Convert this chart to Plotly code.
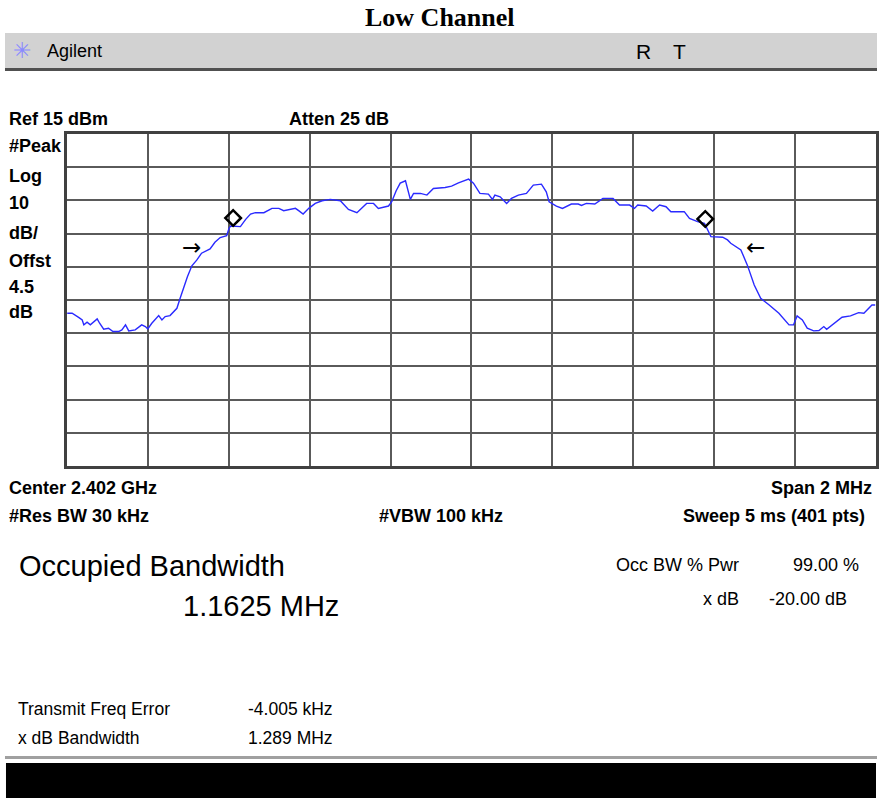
import plotly.graph_objects as go

# ---------------- data ----------------
freq_mhz = [2401.001, 2401.013, 2401.030, 2401.038, 2401.042, 2401.050, 2401.058, 2401.065, 2401.075, 2401.081,
            2401.091, 2401.103, 2401.114, 2401.128, 2401.136, 2401.145, 2401.153, 2401.169, 2401.185, 2401.194,
            2401.200, 2401.210, 2401.227, 2401.235, 2401.243, 2401.255, 2401.265, 2401.272, 2401.280, 2401.288,
            2401.298, 2401.309, 2401.321, 2401.333, 2401.346, 2401.354, 2401.366, 2401.379, 2401.395, 2401.401,
            2401.405, 2401.429, 2401.442, 2401.454, 2401.466, 2401.487, 2401.507, 2401.524, 2401.536, 2401.552,
            2401.565, 2401.573, 2401.584, 2401.598, 2401.614, 2401.631, 2401.651, 2401.676, 2401.696, 2401.717,
            2401.741, 2401.758, 2401.770, 2401.795, 2401.803, 2401.814, 2401.824, 2401.837, 2401.849, 2401.857,
            2401.874, 2401.890, 2401.906, 2401.935, 2401.951, 2401.968, 2401.993, 2402.005, 2402.021, 2402.042,
            2402.052, 2402.058, 2402.071, 2402.087, 2402.099, 2402.116, 2402.136, 2402.153, 2402.173, 2402.185,
            2402.192, 2402.210, 2402.225,
            2402.247, 2402.264, 2402.272, 2402.284, 2402.305, 2402.325, 2402.350, 2402.366, 2402.391, 2402.403,
            2402.411, 2402.432, 2402.448, 2402.465, 2402.481, 2402.493, 2402.526, 2402.539, 2402.559, 2402.576,
            2402.592, 2402.621, 2402.633, 2402.641, 2402.666, 2402.682, 2402.699, 2402.715, 2402.736, 2402.760,
            2402.785, 2402.796, 2402.805, 2402.818, 2402.830, 2402.846, 2402.859, 2402.871, 2402.878, 2402.892,
            2402.916, 2402.937, 2402.957, 2402.970, 2402.990, 2402.998]

level_dbm = [-39.0, -39.0, -40.3, -41.0, -42.5, -41.7, -42.5, -41.7, -40.7, -42.0,
             -43.8, -43.5, -44.5, -44.5, -44.0, -42.5, -44.3, -44.0, -42.5, -43.0,
             -43.7, -42.0, -39.7, -41.0, -40.0, -39.7, -38.5, -37.5, -34.5, -31.5,
             -28.0, -24.7, -23.0, -20.9, -20.2, -19.6, -17.6, -16.2, -15.6, -13.4,
             -12.7, -12.9, -10.7, -9.1, -8.7, -8.7, -7.4, -7.4, -8.1, -7.7,
             -7.4, -8.1, -9.1, -7.4, -5.9, -5.1, -4.7, -5.1, -7.7, -8.7,
             -5.9, -5.9, -7.4, -6.7, -5.4, -2.1, 0.2, 0.9, -4.7, -2.9,
             -2.9, -3.4, -1.4, -1.1, -0.7, 0.3, 1.4, 0.2, -2.9, -3.1,
             -4.7, -3.4, -3.9, -5.9, -4.4, -3.4, -2.9, -0.4, -0.1, -2.4,
             -5.4, -6.7, -7.4,
             -6.1, -6.1, -6.5, -5.9, -6.1, -4.4, -4.4, -6.4, -6.4, -7.4,
             -6.4, -6.7, -8.2, -6.4, -6.9, -8.4, -8.4, -10.4, -11.4, -11.9,
             -15.9, -16.1, -16.9, -17.9, -19.9, -24.5, -30.5, -34.5, -36.5, -39.0,
             -42.5, -42.5, -39.8, -41.0, -43.5, -44.3, -44.2, -43.0, -43.8, -42.5,
             -40.2, -39.8, -38.8, -39.0, -36.5, -36.5]

marker_freq = [2401.411, 2402.578]
marker_level = [-10.3, -10.6]

arrow_freq = [2401.307, 2402.701]
arrow_level = [-18.9, -18.9]
arrow_text = ["→", "←"]

ref_level = 15
db_per_div = 10
start_mhz = 2401.0
stop_mhz = 2403.0

W, H = 879, 800
SANS = "Liberation Sans, Arial, sans-serif"


def px(x, y):
    return x / W, 1 - y / H


fig = go.Figure()
fig.add_trace(go.Scatter(x=freq_mhz, y=level_dbm, mode="lines",
                         line=dict(color="#2a2aff", width=1.4), hoverinfo="skip"))
fig.add_trace(go.Scatter(x=marker_freq, y=marker_level, mode="markers",
                         marker=dict(symbol="diamond-open", size=12, color="black",
                                     line=dict(color="black", width=2.5)), hoverinfo="skip"))

annotations = []
for f, l, t in zip(arrow_freq, arrow_level, arrow_text):
    annotations.append(dict(x=f, y=l, xref="x", yref="y", text=t, showarrow=False,
                            font=dict(family="DejaVu Sans", size=23, color="black")))


def label(x, y, text, size=18, bold=False, anchor="left", family=SANS, color="black"):
    xx, yy = px(x, y)
    t = f"<b>{text}</b>" if bold else text
    annotations.append(dict(x=xx, y=yy, xref="paper", yref="paper", text=t, showarrow=False,
                            xanchor=anchor, yanchor="middle",
                            font=dict(family=family, size=size, color=color)))


label(441, 18, "Low Channel", size=26, bold=True, anchor="center", family="Liberation Serif, Times New Roman, serif")
label(11, 51, "✳", size=22, anchor="left", family="DejaVu Sans", color="#8a8aff")
label(45, 51, "Agilent", size=18)
label(635, 52, "R", size=21)
label(673, 52, "T", size=21)

label(7, 119, "Ref 15 dBm", bold=True)
label(288, 119, "Atten 25 dB", bold=True)
for yy, t in [(146, "#Peak"), (176, "Log"), (203, "10"), (233, "dB/"), (261, "Offst"), (287, "4.5"), (312, "dB")]:
    label(7, yy, t, bold=True)

label(7, 488, "Center 2.402 GHz", bold=True)
label(876, 488, "Span 2 MHz", bold=True, anchor="right")
label(7, 516, "#Res BW 30 kHz", bold=True)
label(378, 516, "#VBW 100 kHz", bold=True)
label(869, 516, "Sweep 5 ms (401 pts)", bold=True, anchor="right")

label(17, 566, "Occupied Bandwidth", size=29)
label(181, 606, "1.1625 MHz", size=29)
label(743, 565, "Occ BW % Pwr", size=18, anchor="right")
label(863, 565, "99.00 %", size=18, anchor="right")
label(743, 599, "x dB", size=18, anchor="right")
label(851, 599, "-20.00 dB", size=18, anchor="right")

label(16, 709, "Transmit Freq Error", size=17.5)
label(247, 709, "-4.005 kHz", size=17.5)
label(16, 738, "x dB Bandwidth", size=17.5)
label(247, 738, "1.289 MHz", size=17.5)

shapes = []


def rect(x0, y0, x1, y1, fill, line_color=None, lw=0):
    a0, b0 = px(x0, y0)
    a1, b1 = px(x1, y1)
    shapes.append(dict(type="rect", xref="paper", yref="paper", x0=a0, y0=b1, x1=a1, y1=b0,
                       fillcolor=fill, line=dict(color=line_color or fill, width=lw), layer="below"))


rect(5, 33, 879, 68, "#d2d2d2")
rect(5, 68, 879, 71, "#505050")
rect(5, 756, 879, 759, "#a0a0a0")
rect(6, 763, 878, 798, "#000000")

x_dom = (67 / W, 878 / W)
y_dom = (1 - 466 / H, 1 - 134 / H)

fig.update_layout(
    width=W, height=H,
    margin=dict(l=0, r=0, t=0, b=0),
    paper_bgcolor="white", plot_bgcolor="white",
    showlegend=False,
    annotations=annotations,
    shapes=shapes,
    xaxis=dict(domain=list(x_dom), range=[start_mhz, stop_mhz], tick0=start_mhz, dtick=0.2,
               showgrid=True, gridcolor="#5a5a5a", gridwidth=1.6, showticklabels=False, ticks="",
               zeroline=False, showline=True, linecolor="#404040", linewidth=3, mirror=True,
               fixedrange=True),
    yaxis=dict(domain=list(y_dom), range=[ref_level - 10 * db_per_div, ref_level], tick0=ref_level,
               dtick=db_per_div, showgrid=True, gridcolor="#5a5a5a", gridwidth=1.6,
               showticklabels=False, ticks="", zeroline=False, showline=True, linecolor="#404040",
               linewidth=3, mirror=True, fixedrange=True),
)

fig.write_html("out.html", config={"displayModeBar": False},
               post_script="document.body.style.margin='0';document.body.style.overflow='hidden';")
